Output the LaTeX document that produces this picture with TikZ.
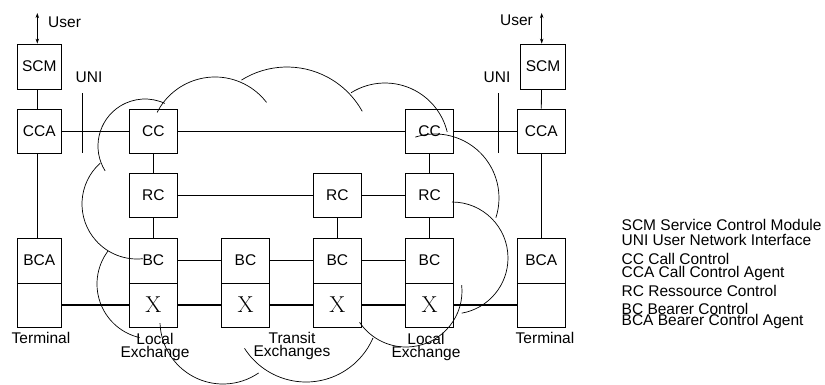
\documentclass[tikz,border=0pt]{standalone}
\usepackage{fontspec}
\setsansfont{Liberation Sans}
\renewcommand{\familydefault}{\sfdefault}
\usetikzlibrary{arrows.meta}
\begin{document}
\begin{tikzpicture}[x=1pt,y=1pt,
  unit/.style={draw, line width=0.8pt, inner sep=0pt, minimum height=44pt,
    font=\fontsize{15.5}{16}\selectfont},
  narrow/.style={unit, minimum width=44pt},
  wide/.style={unit, minimum width=48pt},
  switch/.style={wide, font=\fontsize{23}{23}\rmfamily},
  link/.style={line width=0.8pt},
  divider/.style={line width=1.6pt},
  bearer/.style={line width=2.4pt},
  cloudline/.style={line width=0.7pt},
  both/.style={link, {Stealth[length=5pt,width=3.5pt]}-{Stealth[length=5pt,width=3.5pt]}},
  lbl/.style={font=\fontsize{15.5}{13}\selectfont, align=center, inner sep=0pt},
  legend/.style={font=\fontsize{15.5}{16}\selectfont, inner sep=0pt, anchor=base west},
]
\useasboundingbox (0,0) rectangle (825,-384);

% ---- left terminal column
\node[narrow, minimum height=45pt] (scmL) at (39.3,-66.5) {SCM};
\node[narrow] (ccaL) at (39.3,-131) {CCA};
\node[narrow, minimum height=45pt] (bcaL) at (39.3,-260.5) {BCA};
\node[narrow] (termL) at (39.3,-305) {};

% ---- left local exchange
\node[wide] (ccL) at (153.3,-131) {CC};
\node[wide] (rcL) at (153.3,-195) {RC};
\node[wide, minimum height=45pt] (bcL) at (153.3,-260.5) {BC};
\node[switch] (xL) at (153.3,-305) {X};

% ---- transit exchanges
\node[wide, minimum height=45pt] (bc2) at (245.5,-260.5) {BC};
\node[switch] (x2) at (245.5,-305) {X};
\node[wide] (rcM) at (337.3,-195) {RC};
\node[wide, minimum height=45pt] (bc3) at (337.3,-260.5) {BC};
\node[switch] (x3) at (337.3,-305) {X};

% ---- right local exchange
\node[wide] (ccR) at (429.5,-131) {CC};
\node[wide] (rcR) at (429.5,-195) {RC};
\node[wide, minimum height=45pt] (bc4) at (429.5,-260.5) {BC};
\node[switch] (x4) at (429.5,-305) {X};

% ---- right terminal column
\node[narrow, minimum width=44.6pt, minimum height=45pt] (scmR) at (543,-66.5) {SCM};
\node[wide] (ccaR) at (541.3,-131) {CCA};
\node[wide, minimum height=45pt] (bcaR) at (541.3,-260.5) {BCA};
\node[wide] (termR) at (541.3,-305) {};

% ---- heavier borders between bearer control and switch
\foreach \b in {bcaL,bcL,bc2,bc3,bc4,bcaR}
  \draw[divider] (\b.south west) -- (\b.south east);

% ---- control links
\draw[link] ([xshift=-2pt]scmL.south) -- ([xshift=-2pt]ccaL.north);
\draw[link] ([xshift=-2pt]ccaL.south) -- ([xshift=-2pt]bcaL.north);
\draw[link] ([xshift=-1.5pt]scmR.south) -- (ccaR.north);
\draw[link] (ccaR.south) -- (bcaR.north);
\draw[link] (ccaL) -- (ccL);
\draw[link] (ccL) -- (ccR);
\draw[link] (ccR) -- (ccaR);
\draw[link] (rcL) -- (rcM);
\draw[link] (rcM) -- (rcR);
\draw[link] (bcL) -- (bc2);
\draw[link] (bc2) -- (bc3);
\draw[link] (bc3) -- (bc4);
\draw[link] (ccL) -- (rcL);
\draw[link] (rcL) -- (bcL);
\draw[link] (rcM) -- (bc3);
\draw[link] (ccR) -- (rcR);
\draw[link] (rcR) -- (bc4);

% ---- bearer path
\draw[bearer] (termL) -- (xL);
\draw[bearer] (xL) -- (x2);
\draw[bearer] (x2) -- (x3);
\draw[bearer] (x3) -- (x4);
\draw[bearer] (x4) -- (termR);

% ---- user network interfaces
\coordinate (uniLt) at (82,-93);
\coordinate (uniLb) at (82,-153);
\coordinate (uniRt) at (498,-93);
\coordinate (uniRb) at (498,-153);
\draw[link] (uniLt) -- (uniLb);
\draw[link] (uniRt) -- (uniRb);
\node[lbl] (uniLtext) at (89,-77) {UNI};
\node[lbl] (uniRtext) at (497,-77) {UNI};

% ---- user access
\coordinate (userL) at (37.3,-13);
\coordinate (userR) at (541.7,-13);
\draw[both] (userL) -- (userL |- scmL.north);
\draw[both] (userR) -- (userR |- scmR.north);
\node[lbl, anchor=west] (userLtext) at (48,-22) {User};
\node[lbl, anchor=east] (userRtext) at (533,-20) {User};

% ---- captions
\node[lbl] (termLtext) at (41,-338) {Terminal};
\node[lbl] (termRtext) at (545,-338) {Terminal};
\node[lbl] (locLtext) at (155,-346.5) {Local\\Exchange};
\node[lbl] (transtext) at (292,-346) {Transit\\Exchanges};
\node[lbl] (locRtext) at (426,-346.5) {Local\\Exchange};

% ---- network cloud
\draw[cloudline] ([shift={(212:47)}]145,-146) arc[start angle=212, end angle=65, radius=47];
\draw[cloudline] ([shift={(153:65)}]215,-142) arc[start angle=153, end angle=37.6, radius=65];
\draw[cloudline] ([shift={(122:86)}]287,-153) arc[start angle=122, end angle=29, radius=86];
\draw[cloudline] ([shift={(122:64)}]385,-147) arc[start angle=122, end angle=13.6, radius=64];
\draw[cloudline] ([shift={(108:64)}]435,-198) arc[start angle=108, end angle=-18, radius=64];
\draw[cloudline] ([shift={(90:56)}]452,-258) arc[start angle=90, end angle=-80, radius=56];
\draw[cloudline] ([shift={(6:56)}]406,-291) arc[start angle=6, end angle=-146, radius=56];
\draw[cloudline] ([shift={(212.6:73)}]306,-309) arc[start angle=212.6, end angle=336.6, radius=73];
\draw[cloudline] ([shift={(182:63)}]223,-321) arc[start angle=182, end angle=304.5, radius=63];
\draw[cloudline] ([shift={(143:55)}]152,-284) arc[start angle=143, end angle=257, radius=55];
\draw[cloudline] ([shift={(132:55)}]137,-204) arc[start angle=132, end angle=276, radius=55];

% ---- legend
\node[legend] (lg1) at (621.5,-230) {SCM Service Control Module};
\node[legend] (lg2) at (621.5,-245) {UNI User Network Interface};
\node[legend] (lg3) at (621.5,-264) {CC Call Control};
\node[legend] (lg4) at (621.5,-277.5) {CCA Call Control Agent};
\node[legend] (lg5) at (621.5,-296) {RC Ressource Control};
\node[legend] (lg6) at (621.5,-314) {BC Bearer Control};
\node[legend] (lg7) at (621.5,-325) {BCA Bearer Control Agent};
\end{tikzpicture}
\end{document}
